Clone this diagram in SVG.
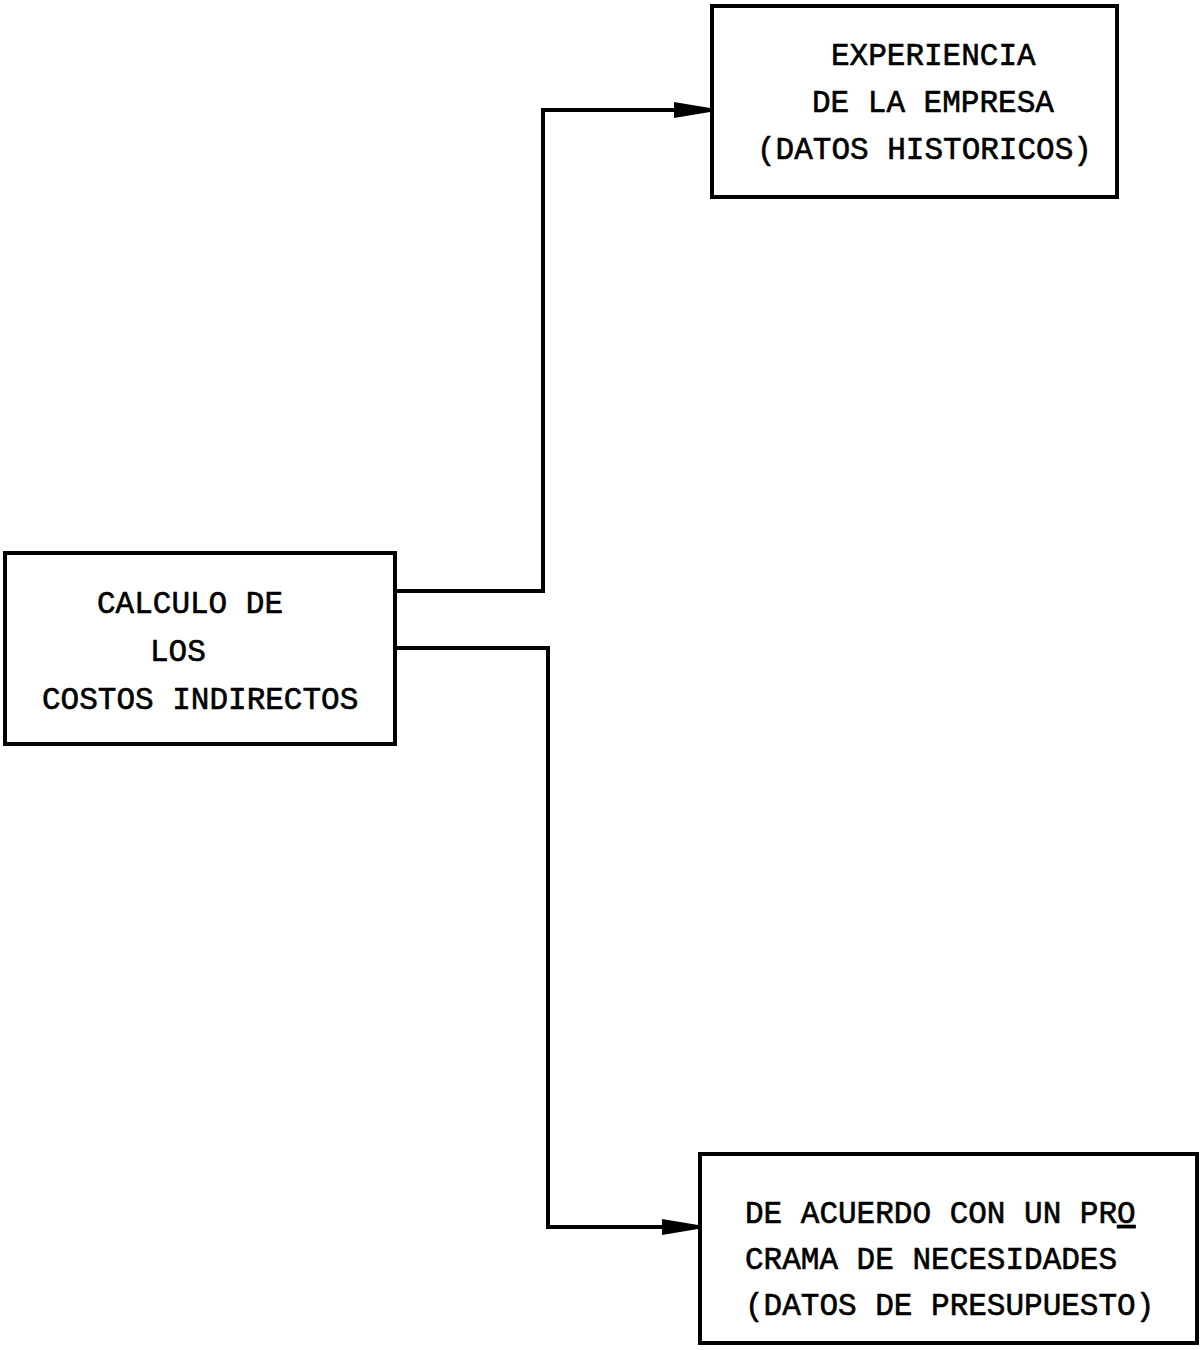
<svg xmlns="http://www.w3.org/2000/svg" width="1201" height="1350" viewBox="0 0 1201 1350">
<style>
.box{fill:#fff;stroke:#000;stroke-width:4}
.t{font-family:"Liberation Mono","DejaVu Sans Mono",monospace;font-size:31px;fill:#000;stroke:#000;stroke-width:0.6}
.c{fill:none;stroke:#000;stroke-width:4}
</style>
<defs>
<marker id="arr" markerWidth="36" markerHeight="16" refX="36" refY="8" orient="auto" markerUnits="userSpaceOnUse" viewBox="0 0 36 16">
<path d="M0,0 L36,6 L36,10 L0,16 z" fill="#000"/>
</marker>
</defs>
<rect width="1201" height="1350" fill="#fff"/>
<g id="connectors">
<path class="c" d="M395,591 H543 V110 H710" marker-end="url(#arr)"/>
<path class="c" d="M395,648 H548 V1227 H698" marker-end="url(#arr)"/>
</g>
<g id="experiencia">
<rect class="box" x="712" y="6" width="405" height="191"/>
<text class="t" x="831" y="65">EXPERIENCIA</text>
<text class="t" x="812" y="112">DE LA EMPRESA</text>
<text class="t" x="757" y="159">(DATOS HISTORICOS)</text>
</g>
<g id="calculo">
<rect class="box" x="5" y="553" width="390" height="191"/>
<text class="t" x="97" y="613">CALCULO DE</text>
<text class="t" x="150" y="661">LOS</text>
<text class="t" x="42" y="709">COSTOS INDIRECTOS</text>
</g>
<g id="programa">
<rect class="box" x="700" y="1154" width="497" height="189"/>
<text class="t" x="745" y="1223">DE ACUERDO CON UN PR<tspan text-decoration="underline">O</tspan></text>
<text class="t" x="745" y="1269">CRAMA DE NECESIDADES</text>
<text class="t" x="745" y="1315">(DATOS DE PRESUPUESTO)</text>
</g>
</svg>
